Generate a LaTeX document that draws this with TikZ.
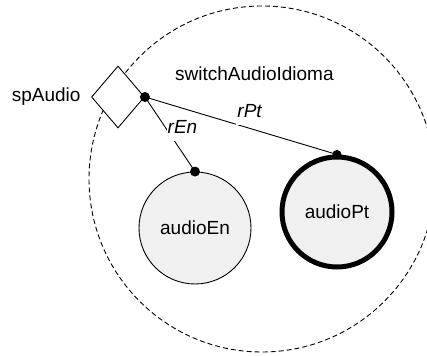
\documentclass[tikz,border=0pt]{standalone}
\usepackage{fontspec}
\setmainfont{Liberation Sans}
\usepackage{tikz}
\usetikzlibrary{shapes,positioning,calc}
\definecolor{audiogray}{HTML}{F0F0F0}

\begin{document}
\begin{tikzpicture}[x=1pt,y=1pt,
    every node/.style={font=\fontsize{19}{22}\selectfont},
    region/.style={circle, draw, dash pattern=on 5pt off 3pt, line width=0.9pt, minimum size=346pt, inner sep=0pt},
    state/.style={circle, draw, fill=audiogray, line width=0.9pt, minimum size=112pt, inner sep=0pt},
    choice/.style={diamond, draw, fill=white, line width=0.9pt, minimum width=53pt, minimum height=62pt, inner sep=0pt},
    joint/.style={circle, fill=black, minimum size=10pt, inner sep=0pt},
    rolename/.style={fill=white, inner xsep=1pt, inner ysep=2pt, text depth=5pt, font=\fontsize{19}{22}\selectfont\itshape}]
\useasboundingbox (0,0) rectangle (427,355);
\clip (0,0) rectangle (427,355);

% composite region
\node[region] (switchAudioIdioma) at (262,176) {};
\node[anchor=base west, inner sep=0pt] (switchName) at (175,274) {switchAudioIdioma};

% choice point
\node[choice] (spAudio) at (118,258) {};
\node[left=7pt of spAudio.west] (spAudioName) {spAudio};

% substates
\node[state] (audioEn) at (195,127) {audioEn};
\node[state, line width=5pt, minimum size=110pt] (audioPt) at (337,143) {audioPt};

% junction dots
\node[joint] (spDot) at (spAudio.east) {};
\node[joint] (enDot) at (audioEn.north) {};
\node[joint, minimum size=9pt] (ptDot) at (audioPt.north) {};

% transitions
\draw[line width=0.9pt] (spDot.center) -- node[rolename, pos=0.425, anchor=base west, yshift=-5pt] {rEn} (enDot.center);
\draw[line width=0.9pt] (spDot.center) -- node[rolename, pos=0.545, anchor=base, yshift=10.6pt] {rPt} (ptDot.center);
\end{tikzpicture}
\end{document}
